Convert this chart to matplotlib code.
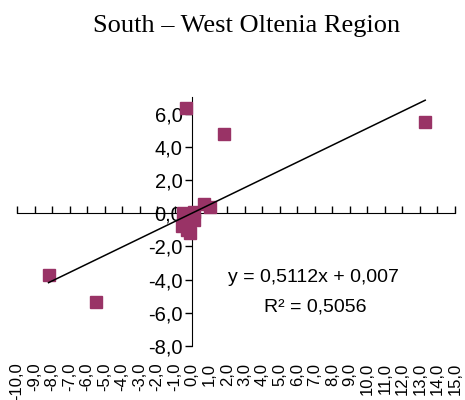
import numpy as np
import matplotlib.pyplot as plt

# valores
x = np.array([-0.37, 1.8, 13.3, -8.2, -5.5, 0.7, 1.0, -0.5, 0.1, -0.6, 0.1, -0.1, -0.3])
y = np.array([6.33, 4.8, 5.5, -3.75, -5.35, 0.55, 0.35, 0.0, 0.1, -0.8, -0.4, -1.2, -1.0])

slope = 0.5112
intercept = 0.007
r2 = 0.5056

titulo = "South \u2013 West Oltenia Region"
xmin, xmax = -10, 15
ymin, ymax = -8, 7
xticks = np.arange(-10, 16, 1)
yticks = np.arange(-8, 7, 2)

cor = "#993366"

def virgula(v):
    return f"{v:.1f}".replace(".", ",")

fig = plt.figure(figsize=(4.65, 4.0), dpi=100)
ax = fig.add_axes([17 / 465, 0.135, 438 / 465, 0.6225])

ax.plot(x, y, "s", color=cor, markersize=9, zorder=3)

xl = np.array([x.min(), x.max()])
ax.plot(xl, slope * xl + intercept, color="black", lw=1.1, zorder=4)

ax.set_xlim(xmin, xmax)
ax.set_ylim(ymin, ymax)

for s in ["top", "right", "bottom"]:
    ax.spines[s].set_visible(False)
ax.spines["left"].set_position(("data", 0))

ax.set_yticks(yticks)
ax.set_yticklabels([virgula(v) for v in yticks], fontfamily="Liberation Sans", fontsize=14.5)
ax.tick_params(axis="y", direction="out", length=5, width=1, pad=2)

# rotulos do eixo x embaixo
ax.set_xticks(xticks)
ax.set_xticklabels([virgula(v) for v in xticks], rotation=90, fontfamily="Liberation Sans",
                   fontsize=12, va="top")
ax.tick_params(axis="x", length=0, pad=12)

# eixo x passando pelo zero
sec = ax.secondary_xaxis((0 - ymin) / (ymax - ymin))
sec.set_xticks(xticks)
sec.set_xticklabels([])
sec.tick_params(direction="out", length=5, width=1)

eq = f"y = {str(slope).replace('.', ',')}x + {str(intercept).replace('.', ',')}"
ax.text(6.9, -3.9, eq, ha="center", va="center", fontfamily="Liberation Sans", fontsize=14)
ax.text(7.0, -5.65, f"R\u00b2 = {str(r2).replace('.', ',')}",
        ha="center", va="center", fontfamily="Liberation Sans", fontsize=14)

fig.text(0.53, 0.935, titulo, ha="center", va="center", fontfamily="Liberation Serif", fontsize=19)

fig.savefig("out.png", dpi=100)
